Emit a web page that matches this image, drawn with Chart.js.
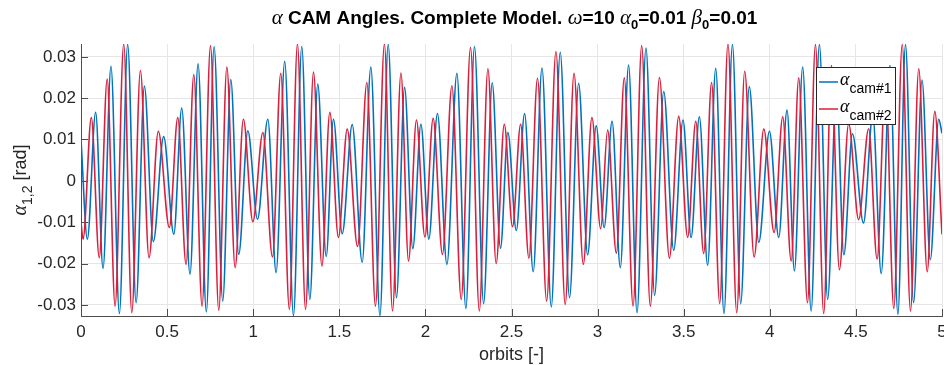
<!DOCTYPE html>
<html>
<head>
<meta charset="utf-8">
<title>CAM angles</title>
<script src="https://cdn.jsdelivr.net/npm/chart.js@4.4.1/dist/chart.umd.min.js"></script>
<style>
  html, body { margin: 0; padding: 0; background: #fff; }
  canvas { display: block; }
</style>
</head>
<body>
<canvas id="camChart" width="944" height="365"></canvas>
<script>
// turning points of each trace: orbit position and angle [rad]
const orbitsCam1 = [
    0.000, 0.037, 0.085, 0.128, 0.174, 0.223, 0.271, 0.320, 0.368, 0.420,
    0.480, 0.539, 0.585, 0.633, 0.680, 0.728, 0.773, 0.823, 0.870, 0.916,
    0.969, 1.025, 1.085, 1.133, 1.183, 1.234, 1.282, 1.329, 1.375, 1.424,
    1.466, 1.517, 1.575, 1.633, 1.683, 1.736, 1.784, 1.832, 1.879, 1.927,
    1.974, 2.020, 2.070, 2.125, 2.183, 2.235, 2.285, 2.338, 2.388, 2.436,
    2.479, 2.528, 2.576, 2.626, 2.677, 2.731, 2.783, 2.837, 2.890, 2.942,
    2.992, 3.038, 3.084, 3.132, 3.180, 3.229, 3.281, 3.331, 3.384, 3.442,
    3.496, 3.543, 3.591, 3.639, 3.686, 3.734, 3.783, 3.831, 3.881, 3.936,
    3.998, 4.052, 4.100, 4.143, 4.191, 4.240, 4.288, 4.336, 4.387, 4.430,
    4.480, 4.544, 4.598, 4.647, 4.698, 4.744, 4.788, 4.835, 4.884, 4.932,
    4.981, 5.000
];
const alphaCam1 = [
    0.0100, -0.0141, 0.0166, -0.0212, 0.0277, -0.0321, 0.0330, -0.0295, 0.0229, -0.0147,
    0.0107, -0.0129, 0.0176, -0.0226, 0.0283, -0.0317, 0.0325, -0.0291, 0.0245, -0.0178,
    0.0121, -0.0093, 0.0149, -0.0222, 0.0289, -0.0326, 0.0325, -0.0287, 0.0234, -0.0183,
    0.0149, -0.0128, 0.0136, -0.0197, 0.0275, -0.0326, 0.0330, -0.0283, 0.0226, -0.0164,
    0.0137, -0.0141, 0.0163, -0.0202, 0.0260, -0.0309, 0.0325, -0.0297, 0.0237, -0.0163,
    0.0117, -0.0120, 0.0163, -0.0220, 0.0273, -0.0305, 0.0311, -0.0283, 0.0236, -0.0179,
    0.0133, -0.0113, 0.0144, -0.0210, 0.0280, -0.0319, 0.0321, -0.0277, 0.0216, -0.0168,
    0.0147, -0.0137, 0.0155, -0.0204, 0.0272, -0.0321, 0.0330, -0.0297, 0.0228, -0.0149,
    0.0120, -0.0137, 0.0171, -0.0218, 0.0275, -0.0315, 0.0330, -0.0287, 0.0226, -0.0179,
    0.0114, -0.0102, 0.0160, -0.0224, 0.0279, -0.0323, 0.0330, -0.0295, 0.0244, -0.0191,
    0.0149, 0.0115
];
const orbitsCam2 = [
    0.000, 0.012, 0.060, 0.106, 0.152, 0.198, 0.248, 0.295, 0.345, 0.395,
    0.449, 0.513, 0.562, 0.610, 0.655, 0.703, 0.752, 0.800, 0.847, 0.895,
    0.943, 0.998, 1.056, 1.112, 1.160, 1.210, 1.257, 1.304, 1.350, 1.399,
    1.445, 1.495, 1.546, 1.606, 1.660, 1.710, 1.762, 1.809, 1.858, 1.902,
    1.948, 1.997, 2.045, 2.099, 2.154, 2.208, 2.262, 2.313, 2.363, 2.411,
    2.458, 2.506, 2.553, 2.601, 2.651, 2.704, 2.758, 2.812, 2.863, 2.917,
    2.967, 3.018, 3.058, 3.109, 3.155, 3.206, 3.256, 3.306, 3.359, 3.417,
    3.471, 3.523, 3.570, 3.616, 3.662, 3.709, 3.757, 3.808, 3.854, 3.909,
    3.965, 4.025, 4.075, 4.124, 4.168, 4.219, 4.265, 4.313, 4.358, 4.404,
    4.458, 4.516, 4.574, 4.623, 4.672, 4.720, 4.769, 4.817, 4.865, 4.914,
    4.958, 5.000
];
const alphaCam2 = [
    -0.0101, -0.0141, 0.0153, -0.0186, 0.0246, -0.0303, 0.0331, -0.0319, 0.0267, -0.0186,
    0.0120, -0.0113, 0.0153, -0.0202, 0.0257, -0.0303, 0.0327, -0.0313, 0.0275, -0.0210,
    0.0149, -0.0099, 0.0117, -0.0184, 0.0260, -0.0311, 0.0331, -0.0311, 0.0263, -0.0206,
    0.0166, -0.0137, 0.0125, -0.0159, 0.0238, -0.0303, 0.0331, -0.0315, 0.0261, -0.0194,
    0.0147, -0.0136, 0.0151, -0.0178, 0.0230, -0.0287, 0.0323, -0.0315, 0.0271, -0.0200,
    0.0137, -0.0111, 0.0137, -0.0187, 0.0248, -0.0291, 0.0313, -0.0299, 0.0260, -0.0202,
    0.0153, -0.0116, 0.0123, -0.0175, 0.0249, -0.0303, 0.0327, -0.0303, 0.0250, -0.0187,
    0.0156, -0.0137, 0.0144, -0.0176, 0.0238, -0.0297, 0.0331, -0.0319, 0.0265, -0.0184,
    0.0125, -0.0125, 0.0155, -0.0194, 0.0249, -0.0295, 0.0330, -0.0321, 0.0279, -0.0215,
    0.0138, -0.0094, 0.0126, -0.0189, 0.0246, -0.0309, 0.0330, -0.0315, 0.0271, -0.0220,
    0.0168, -0.0130
];

const xTicks = [0, 0.5, 1, 1.5, 2, 2.5, 3, 3.5, 4, 4.5, 5];
const yTicks = [-0.03, -0.02, -0.01, 0, 0.01, 0.02, 0.03];
const xLimits = [0, 5];
const yLimits = [-0.0327, 0.0331];

const BLUE = '#0072BD';
const RED = '#DA1F3D';
const GRID = '#e6e6e6';
const AXIS = '#4d4d4d';
const TEXT = '#262626';
const SANS = '"Liberation Sans", Arial, Helvetica, sans-serif';
const SERIF = '"Liberation Serif", "Times New Roman", serif';
const TICK_LEN = 7;

const toPoints = (xs, ys) => xs.map((x, i) => ({ x, y: ys[i] }));

// draws a list of text runs (font + vertical shift) one after another
const measureRuns = (ctx, runs) => runs.reduce((w, r) => {
    ctx.font = r.font;
    return w + ctx.measureText(r.text).width;
}, 0);

const drawRuns = (ctx, runs, x, y) => {
    let cx = x;
    runs.forEach(r => {
        ctx.font = r.font;
        ctx.fillText(r.text, cx, y + (r.dy || 0));
        cx += ctx.measureText(r.text).width;
    });
};

const bold = `bold 19px ${SANS}`;
const greek = `italic 21px ${SERIF}`;
const sub = `bold 13px ${SANS}`;
const titleRuns = [
    { text: 'α', font: greek },
    { text: ' CAM Angles. Complete Model. ', font: bold },
    { text: 'ω', font: greek },
    { text: '=10 ', font: bold },
    { text: 'α', font: greek },
    { text: '0', font: sub, dy: 5 },
    { text: '=0.01 ', font: bold },
    { text: 'β', font: greek },
    { text: '0', font: sub, dy: 5 },
    { text: '=0.01', font: bold }
];

const yTitleRuns = [
    { text: 'α', font: `italic 20px ${SERIF}` },
    { text: '1,2', font: `14px ${SANS}`, dy: 6 },
    { text: ' [rad]', font: `18px ${SANS}` }
];

const legendItems = [
    { color: BLUE, sub: 'cam#1' },
    { color: RED, sub: 'cam#2' }
];

const decorations = {
    id: 'decorations',
    // inward tick marks, as the plot has them inside the axes
    beforeDatasetsDraw(chart) {
        const { ctx, chartArea: a, scales: { x, y } } = chart;
        ctx.save();
        ctx.strokeStyle = AXIS;
        ctx.lineWidth = 1;
        ctx.beginPath();
        x.ticks.forEach(t => {
            const px = Math.round(x.getPixelForValue(t.value)) + 0.5;
            ctx.moveTo(px, a.bottom);
            ctx.lineTo(px, a.bottom - TICK_LEN);
        });
        y.ticks.forEach(t => {
            const py = Math.round(y.getPixelForValue(t.value)) + 0.5;
            ctx.moveTo(a.left, py);
            ctx.lineTo(a.left + TICK_LEN, py);
        });
        ctx.stroke();
        ctx.restore();
    },
    afterDraw(chart) {
        const { ctx, chartArea: a } = chart;
        const midX = (a.left + a.right) / 2;
        ctx.save();
        ctx.fillStyle = '#000';
        ctx.textBaseline = 'alphabetic';
        ctx.textAlign = 'left';

        // title
        const tw = measureRuns(ctx, titleRuns);
        drawRuns(ctx, titleRuns, midX + 3 - tw / 2, 24);

        // x axis title
        ctx.fillStyle = TEXT;
        ctx.font = `18px ${SANS}`;
        ctx.textAlign = 'center';
        ctx.fillText('orbits [-]', midX, 360);

        // y axis title, rotated
        ctx.textAlign = 'left';
        const yw = measureRuns(ctx, yTitleRuns);
        ctx.save();
        ctx.translate(26, (a.top + a.bottom) / 2 + yw / 2);
        ctx.rotate(-Math.PI / 2);
        drawRuns(ctx, yTitleRuns, 0, 0);
        ctx.restore();

        // legend box
        const lx = 816, ly = 67, lw = 79, lh = 57;
        ctx.fillStyle = '#fff';
        ctx.fillRect(lx, ly, lw, lh);
        ctx.strokeStyle = TEXT;
        ctx.lineWidth = 1;
        ctx.strokeRect(lx + 0.5, ly + 0.5, lw, lh);
        legendItems.forEach((item, i) => {
            const rowY = ly + 15 + i * 27;
            ctx.strokeStyle = item.color;
            ctx.lineWidth = 1.5;
            ctx.beginPath();
            ctx.moveTo(lx + 3, rowY);
            ctx.lineTo(lx + 22, rowY);
            ctx.stroke();
            ctx.fillStyle = '#000';
            drawRuns(ctx, [
                { text: 'α', font: `italic 18px ${SERIF}` },
                { text: item.sub, font: `14px ${SANS}`, dy: 8 }
            ], lx + 24, rowY + 3);
        });
        ctx.restore();
    }
};

const tickFont = { family: SANS, size: 17 };

new Chart(document.getElementById('camChart'), {
    type: 'line',
    data: {
        datasets: [
            { label: 'cam#1', data: toPoints(orbitsCam1, alphaCam1), borderColor: BLUE, order: 1 },
            { label: 'cam#2', data: toPoints(orbitsCam2, alphaCam2), borderColor: RED, order: 0 }
        ]
    },
    options: {
        responsive: false,
        animation: false,
        devicePixelRatio: 1,
        elements: {
            point: { radius: 0 },
            line: { borderWidth: 1.6, cubicInterpolationMode: 'monotone', fill: false }
        },
        layout: { padding: { top: 44, right: 2, left: 0, bottom: 0 } },
        plugins: {
            legend: { display: false },
            tooltip: { enabled: false },
            title: { display: false }
        },
        scales: {
            x: {
                type: 'linear',
                min: xLimits[0],
                max: xLimits[1],
                afterFit: s => {
                    s.height = 49;
                    // let the last label run off the edge instead of shrinking the plot
                    s.paddingLeft = 0;
                    s.paddingRight = 0;
                },
                afterBuildTicks: s => { s.ticks = xTicks.map(value => ({ value })); },
                grid: { color: GRID, drawTicks: false },
                border: { color: AXIS },
                ticks: {
                    font: tickFont,
                    color: TEXT,
                    padding: 6,
                    maxRotation: 0,
                    autoSkip: false,
                    callback: v => String(+v.toFixed(1))
                }
            },
            y: {
                type: 'linear',
                min: yLimits[0],
                max: yLimits[1],
                afterFit: s => {
                    s.width = 81;
                    s.paddingTop = 0;
                    s.paddingBottom = 0;
                },
                afterBuildTicks: s => { s.ticks = yTicks.map(value => ({ value })); },
                grid: { color: GRID, drawTicks: false },
                border: { color: AXIS },
                ticks: {
                    font: tickFont,
                    color: TEXT,
                    padding: 5,
                    autoSkip: false,
                    callback: v => Math.abs(v) < 1e-9 ? '0' : v.toFixed(2)
                }
            }
        }
    },
    plugins: [decorations]
});
</script>
</body>
</html>
